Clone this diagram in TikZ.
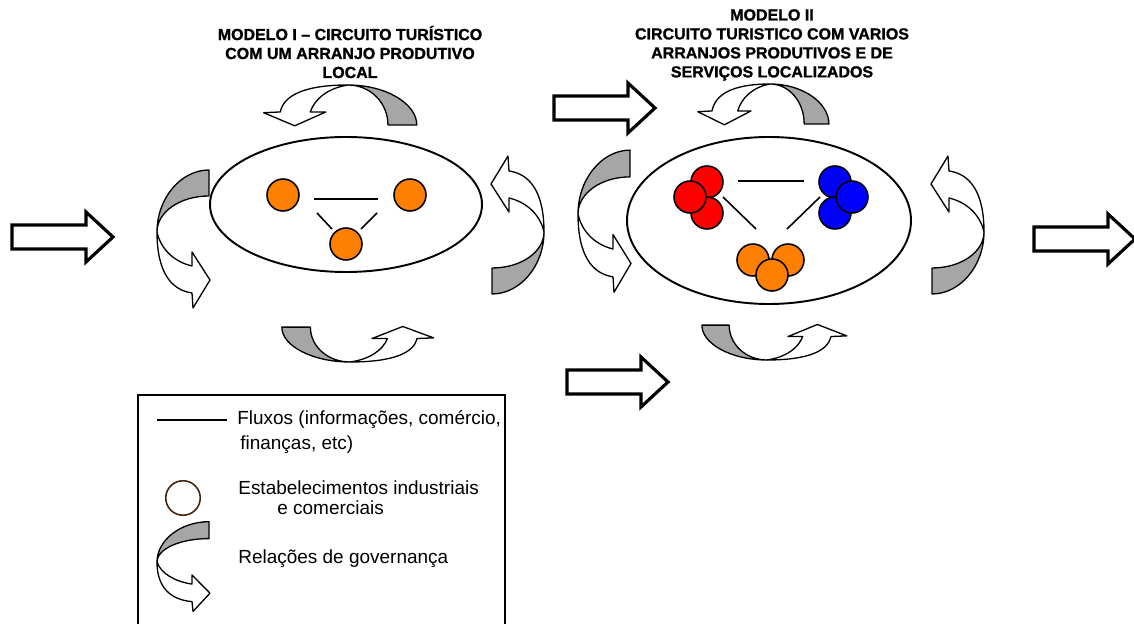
\documentclass[tikz,border=0pt]{standalone}
\usepackage{fontspec}
\setmainfont{Liberation Sans}
\newfontfamily\titlefont[FakeBold=1.2,Ligatures=TeX]{Liberation Sans Bold}
\usetikzlibrary{shapes.geometric}
\definecolor{orng}{RGB}{255,128,0}
\definecolor{govgray}{RGB}{166,166,166}
\definecolor{legcirc}{RGB}{70,35,10}
\begin{document}
\begin{tikzpicture}[x=0.02cm,y=-0.02cm,
  govline/.style={line width=0.75pt, line join=round},
  blockline/.style={line width=1.8pt, line join=miter, fill=white},
  model/.style={ellipse, draw, line width=1.1pt, inner sep=0pt},
  dot/.style={circle, draw, line width=0.9pt, inner sep=0pt, minimum size=0.64cm},
  flow/.style={line width=0.9pt},
  titletext/.style={align=center, font=\fontsize{9.1}{10.8}\selectfont\titlefont, inner sep=0pt},
  legtext/.style={anchor=west, inner sep=0pt, font=\fontsize{10.8}{12}\selectfont},
  govarrow/.pic={
    \filldraw[govline, fill=govgray] (0,0) .. controls (0,-34) and (24,-62) .. (52,-62)
      -- (52,-36) .. controls (23,-36) and (0,-20) .. (0,0) -- cycle;
    \filldraw[govline, fill=white] (0,0) .. controls (4,18) and (18,30) .. (35,34)
      -- (35,20) -- (53,48) -- (36,76) -- (35,61) .. controls (14,58) and (0,40) .. (0,0) -- cycle;
  },
  blockarr/.pic={
    \draw[blockline] (0,-12) -- (74,-12) -- (74,-25) -- (101,0) -- (74,25) -- (74,12) -- (0,12) -- cycle;
  }
]
\useasboundingbox (0,0) rectangle (1134,624);

% block arrows
\pic at (12,237) {blockarr};
\pic at (554,108) {blockarr};
\pic at (567,382) {blockarr};
\pic at (1034,239) {blockarr};

% titles
\node[titletext] (t1) at (350,52) {MODELO I – CIRCUITO TURÍSTICO\\COM UM ARRANJO PRODUTIVO\\LOCAL};
\node[titletext] (t2) at (772,45) {MODELO II\\CIRCUITO TURISTICO COM VARIOS\\ARRANJOS PRODUTIVOS E DE\\SERVIÇOS LOCALIZADOS};

% model I
\node[model, minimum width=272*0.02cm, minimum height=135*0.02cm] (m1) at (346,204.5) {};
\node[dot, fill=orng] (a1) at (283,195) {};
\node[dot, fill=orng] (a2) at (410,195) {};
\node[dot, fill=orng] (a3) at (346,244) {};
\coordinate (h1s) at (314,199); \coordinate (h1e) at (378,199);
\coordinate (d1s) at (317,213); \coordinate (d1e) at (332,229);
\coordinate (d2s) at (377,213); \coordinate (d2e) at (361,229);
\draw[flow] (h1s) -- (h1e);
\draw[flow] (d1s) -- (d1e);
\draw[flow] (d2s) -- (d2e);

% governance arrows model I
\pic at (157,232) {govarrow};
\pic[rotate=180] at (544,232) {govarrow};
\pic[rotate=-90, xscale=0.77, yscale=1.11] at (348,85) {govarrow};
\pic[rotate=90, xscale=0.67, yscale=1.1] at (350,362) {govarrow};

% model II
\node[model, minimum width=284*0.02cm, minimum height=167*0.02cm] (m2) at (769,220.5) {};
\node[dot, fill=red] (r1) at (707,182) {};
\node[dot, fill=red] (r3) at (707,213) {};
\node[dot, fill=red] (r2) at (690,197) {};
\node[dot, fill=blue] (b1) at (835,182) {};
\node[dot, fill=blue] (b3) at (835,213) {};
\node[dot, fill=blue] (b2) at (852,197) {};
\node[dot, fill=orng] (o1) at (753,260) {};
\node[dot, fill=orng] (o2) at (788,260) {};
\node[dot, fill=orng] (o3) at (772,275) {};
\coordinate (h2s) at (738,181); \coordinate (h2e) at (804,181);
\coordinate (e1s) at (723,197); \coordinate (e1e) at (756,229);
\coordinate (e2s) at (820,197); \coordinate (e2e) at (787,229);
\draw[flow] (h2s) -- (h2e);
\draw[flow] (e1s) -- (e1e);
\draw[flow] (e2s) -- (e2e);

% governance arrows model II
\pic[yscale=1.03] at (578,214) {govarrow};
\pic[rotate=180] at (984,232) {govarrow};
\pic[rotate=-90, xscale=0.77, yscale=0.95] at (770,84) {govarrow};
\pic[rotate=90, xscale=0.67, yscale=1.05] at (767,360) {govarrow};

% legend
\draw[line width=0.9pt] (138,625) -- (138,395) -- (505,395) -- (505,625);
\coordinate (lfs) at (157,420); \coordinate (lfe) at (227,420);
\draw[flow] (lfs) -- (lfe);
\node[legtext] (lt1) at (237,420) {Fluxos (informações, comércio,};
\node[legtext] (lt2) at (240,445) {finanças, etc)};
\node[dot, draw=legcirc, fill=white, minimum size=0.69cm] (lc) at (183,498) {};
\node[legtext] (lt3) at (238,488) {Estabelecimentos industriais};
\node[legtext] (lt4) at (277,508) {e comerciais};
\pic[yscale=0.65] at (157,562) {govarrow};
\node[legtext] (lt5) at (238,559) {Relações de governança};
\end{tikzpicture}
\end{document}
